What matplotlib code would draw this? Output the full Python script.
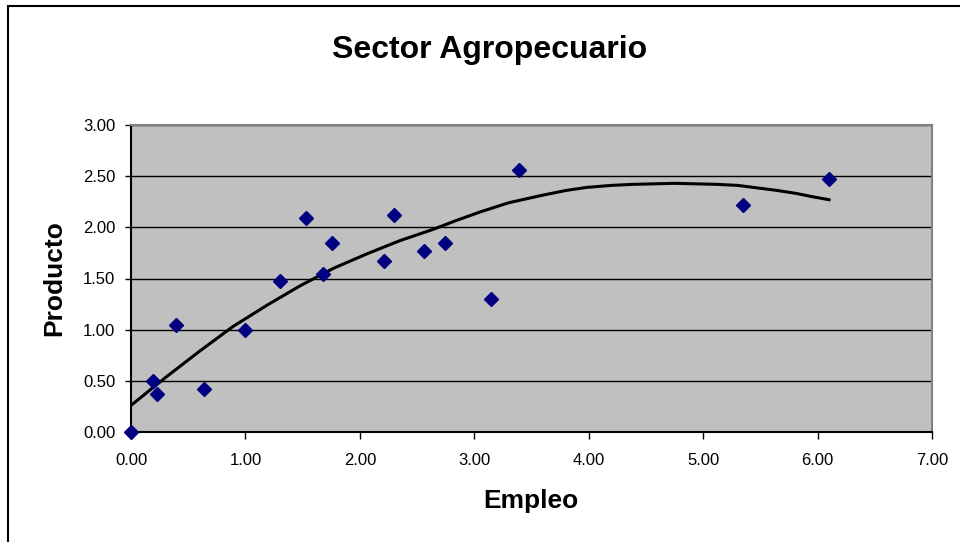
import matplotlib.pyplot as plt
import numpy as np
from matplotlib.patches import Rectangle

plt.rcParams['font.family'] = ['Liberation Sans', 'DejaVu Sans']

empleo = [0.00, 0.19, 0.23, 0.39, 0.64, 1.00, 1.30, 1.53, 1.68, 1.76,
          2.21, 2.30, 2.56, 2.74, 3.15, 3.39, 5.35, 6.10]
producto = [0.00, 0.50, 0.37, 1.05, 0.42, 1.00, 1.48, 2.09, 1.54, 1.85,
            1.67, 2.12, 1.77, 1.85, 1.30, 2.56, 2.22, 2.47]

# trendline
trend_x = [0.00, 0.31, 0.60, 0.89, 1.19, 1.48, 1.77, 2.06, 2.35, 2.64,
           2.85, 3.05, 3.30, 3.58, 3.80, 3.98, 4.20, 4.39, 4.75, 5.12,
           5.30, 5.44, 5.65, 5.82, 5.95, 6.10]
trend_y = [0.26, 0.54, 0.79, 1.03, 1.24, 1.43, 1.60, 1.74, 1.87, 1.98,
           2.07, 2.15, 2.24, 2.31, 2.36, 2.39, 2.41, 2.42, 2.43, 2.42,
           2.41, 2.39, 2.36, 2.33, 2.30, 2.27]

xticks = np.arange(0, 7.01, 1.0)
yticks = np.arange(0, 3.01, 0.5)

fig = plt.figure(figsize=(9.6, 5.42), dpi=100)
ax = fig.add_axes([131 / 960, 1 - 432 / 542, 801 / 960, 307 / 542])

# outer chart border
fig.patches.append(Rectangle((8 / 960, -0.1), 1.2, 1 - 6 / 542 + 0.1,
                             transform=fig.transFigure, fill=False,
                             edgecolor='black', linewidth=1.5))

ax.set_facecolor('#c0c0c0')
ax.set_xlim(0, 7)
ax.set_ylim(0, 3)
ax.set_xticks(xticks)
ax.set_yticks(yticks)
ax.set_xticklabels([f'{v:.2f}' for v in xticks], fontsize=12)
ax.set_yticklabels([f'{v:.2f}' for v in yticks], fontsize=12)
ax.tick_params(axis='x', direction='out', length=5, width=1, pad=10)
ax.tick_params(axis='y', direction='out', length=4.3, width=1, pad=7)
ax.grid(axis='y', color='black', linewidth=1)
ax.set_axisbelow(True)

for s in ['top', 'right']:
    ax.spines[s].set_color('#808080')
    ax.spines[s].set_linewidth(1.5)
for s in ['left', 'bottom']:
    ax.spines[s].set_color('black')
    ax.spines[s].set_linewidth(1.5)

ax.plot(trend_x, trend_y, color='black', linewidth=2.2, zorder=2)

ax.plot(empleo, producto, linestyle='none', marker='D', markersize=7,
        color='#000080', clip_on=False, zorder=3)

fig.text(490 / 960, 1 - 58 / 542, 'Sector Agropecuario', fontsize=23,
         fontweight='bold', ha='center', va='baseline')
fig.text(531 / 960, 1 - 508 / 542, 'Empleo', fontsize=19,
         fontweight='bold', ha='center', va='baseline')
fig.text(54 / 960, 1 - 278 / 542, 'Producto', fontsize=19,
         fontweight='bold', ha='center', va='center', rotation=90)

fig.savefig('out.png', dpi=100)
